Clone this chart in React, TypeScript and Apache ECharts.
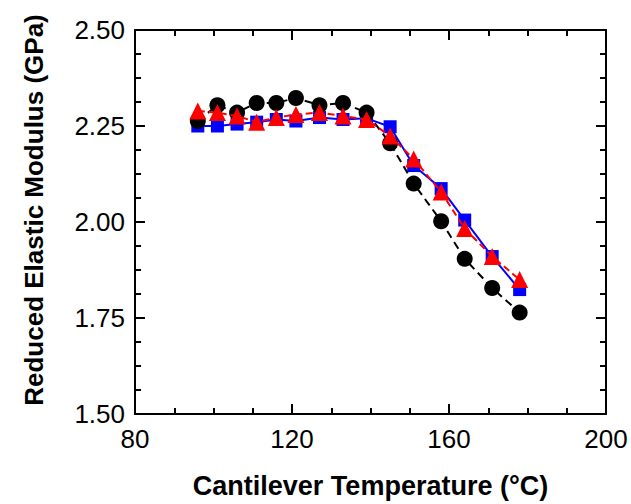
import React, { useEffect, useRef } from "react";
import * as echarts from "echarts";

const temps = [96, 101, 106, 111, 116, 121, 127, 133, 139, 145, 151, 158, 164, 171, 178];
const blackSeries = [2.263, 2.304, 2.285, 2.31, 2.31, 2.323, 2.304, 2.31, 2.285, 2.205, 2.1, 2.002, 1.904, 1.828, 1.764];
const redSeries = [2.289, 2.285, 2.276, 2.26, 2.272, 2.28, 2.285, 2.276, 2.267, 2.224, 2.164, 2.078, 1.983, 1.91, 1.85];
const blueSeries = [2.25, 2.25, 2.255, 2.26, 2.267, 2.263, 2.272, 2.267, 2.27, 2.248, 2.147, 2.087, 2.005, 1.91, 1.824];

const xTitle = "Cantilever Temperature (°C)";
const yTitle = "Reduced Elastic Modulus (GPa)";

const FONT = "Liberation Sans, Arial, sans-serif";

function pairs(ys: number[]) {
  return temps.map((t, i) => [t, ys[i]]);
}

export default function App() {
  const ref = useRef<HTMLDivElement>(null);
  useEffect(() => {
    if (!ref.current) return;
    const chart = echarts.init(ref.current, undefined, { renderer: "svg" });
    const axisCommon = {
      axisLine: { show: true, lineStyle: { color: "#000", width: 2 } },
      splitLine: { show: false },
    };
    chart.setOption({
      animation: false,
      backgroundColor: "#fff",
      grid: { left: 135, top: 30, width: 471, height: 387, containLabel: false },
      xAxis: [
        {
          type: "value",
          min: 80,
          max: 200,
          interval: 40,
          position: "bottom",
          ...axisCommon,
          axisTick: { show: true, inside: true, length: 10, lineStyle: { color: "#000", width: 2 } },
          minorTick: { show: true, splitNumber: 4, length: 6, lineStyle: { color: "#000", width: 2 } },
          axisLabel: { color: "#000", fontSize: 26, fontFamily: FONT, margin: 12 },
          name: xTitle,
          nameLocation: "middle",
          nameGap: 58,
          nameTextStyle: { color: "#000", fontSize: 27, fontWeight: "bold", fontFamily: FONT },
        },
        {
          type: "value",
          min: 80,
          max: 200,
          interval: 40,
          position: "top",
          ...axisCommon,
          axisTick: { show: true, inside: true, length: 10, lineStyle: { color: "#000", width: 2 } },
          minorTick: { show: true, splitNumber: 4, length: 6, lineStyle: { color: "#000", width: 2 } },
          axisLabel: { show: false },
        },
      ],
      yAxis: [
        {
          type: "value",
          min: 1.5,
          max: 2.5,
          interval: 0.25,
          position: "left",
          ...axisCommon,
          axisTick: { show: true, inside: true, length: 10, lineStyle: { color: "#000", width: 2 } },
          minorTick: { show: true, splitNumber: 4, length: 6, lineStyle: { color: "#000", width: 2 } },
          axisLabel: {
            color: "#000",
            fontSize: 26,
            fontFamily: FONT,
            margin: 10,
            formatter: (v: number) => v.toFixed(2),
          },
        },
        {
          type: "value",
          min: 1.5,
          max: 2.5,
          interval: 0.25,
          position: "right",
          ...axisCommon,
          axisTick: { show: true, inside: true, length: 10, lineStyle: { color: "#000", width: 2 } },
          minorTick: { show: true, splitNumber: 4, length: 6, lineStyle: { color: "#000", width: 2 } },
          axisLabel: { show: false },
        },
      ],
      graphic: [
        {
          type: "text",
          x: 34,
          y: 210,
          rotation: Math.PI / 2,
          style: {
            text: yTitle,
            fill: "#000",
            font: `bold 26px ${FONT}`,
            textAlign: "center",
            textVerticalAlign: "middle",
          },
        },
      ],
      series: [
        {
          type: "line",
          data: pairs(blueSeries),
          symbol: "rect",
          symbolSize: 13,
          itemStyle: { color: "#0000ff" },
          lineStyle: { color: "#0000ff", width: 2 },
          z: 2,
        },
        {
          type: "line",
          data: pairs(blackSeries),
          symbol: "circle",
          symbolSize: 16,
          itemStyle: { color: "#000" },
          lineStyle: { color: "#000", width: 2, type: [8, 5] },
          z: 3,
        },
        {
          type: "line",
          data: pairs(redSeries),
          symbol: "triangle",
          symbolSize: 17,
          itemStyle: { color: "#ff0000" },
          lineStyle: { color: "#ff0000", width: 2, type: [7, 4] },
          z: 4,
        },
      ],
    });
    return () => chart.dispose();
  }, []);
  return (
    <div
      ref={ref}
      style={{ position: "fixed", left: 0, top: 0, width: 631, height: 504, background: "#fff" }}
    />
  );
}
